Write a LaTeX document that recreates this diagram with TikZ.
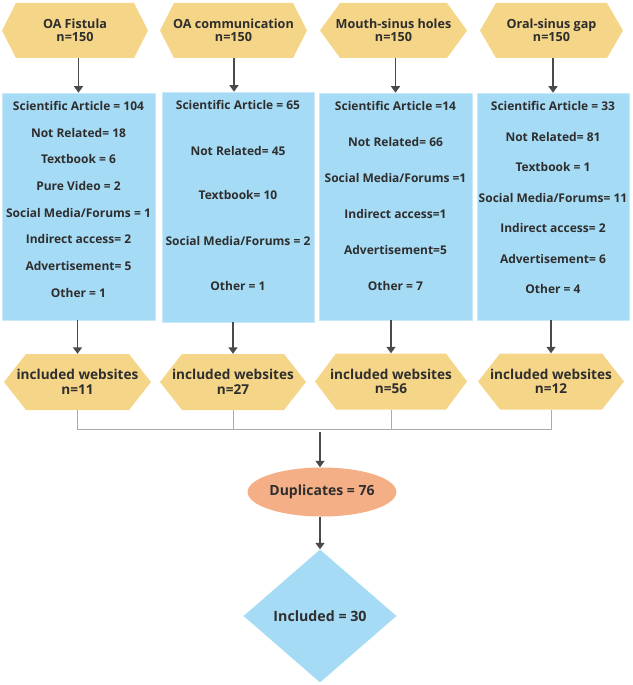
\documentclass[tikz,border=0pt]{standalone}
\usepackage{fontspec}
\setmainfont{Open Sans}
\usetikzlibrary{shapes.geometric,arrows.meta}
\definecolor{hexc}{HTML}{F5D587}
\definecolor{boxc}{HTML}{A6DBF5}
\definecolor{ellc}{HTML}{F5AF86}
\definecolor{txt}{HTML}{2E2E2E}
\definecolor{arr}{HTML}{4A4A4A}
\definecolor{conn}{HTML}{ABABAB}
\tikzset{
  hextext/.style={inner sep=0pt, align=center, text=txt, font=\fontsize{12.6}{12.5}\selectfont\bfseries},
  lowtext/.style={inner sep=0pt, align=center, text=txt, font=\fontsize{13.6}{14.5}\selectfont\bfseries},
  bluebox/.style={rectangle, fill=boxc, draw=boxc!60!white, line width=0.6pt, inner sep=0pt},
  bt/.style={inner sep=0pt, text=txt, font=\fontsize{12}{13}\selectfont\bfseries},
  arrowst/.style={draw=arr, line width=1.4pt, -{Triangle[length=6.5pt,width=9pt]}},
  connl/.style={draw=conn, line width=0.9pt},
}
\newcommand\myhex[7]{%
  \fill[hexc] (#2-#4,#3) -- (#2-#4+#6,#3-#5) -- (#2+#4-#6,#3-#5) -- (#2+#4,#3)
     -- (#2+#4-#6,#3+#5) -- (#2-#4+#6,#3+#5) -- cycle;
  \node[#7, minimum width=2*#4, minimum height=2*#5] (#1) at (#2,#3) {};
}
\begin{document}
\begin{tikzpicture}[x=1pt,y=-1pt]
\useasboundingbox (0,0) rectangle (632,685);
% top hexagons
\myhex{h1}{75}{30.5}{73}{27.5}{14}{hextext}
\myhex{h2}{233.5}{30.5}{73.5}{27.5}{14}{hextext}
\myhex{h3}{393.5}{30.5}{73.5}{27.5}{20}{hextext}
\myhex{h4}{551.5}{30.5}{71.5}{27.5}{16}{hextext}
\node[hextext] (h1t) at (h1.center) {OA Fistula\\n=150};
\node[hextext] (h2t) at (h2.center) {OA communication\\n=150};
\node[hextext] (h3t) at (h3.center) {Mouth-sinus holes\\n=150};
\node[hextext] (h4t) at (h4.center) {Oral-sinus gap\\n=150};
% boxes
\node[bluebox, minimum width=153, minimum height=227] (b1) at (78.5,206.5) {};
\node[bluebox, minimum width=152, minimum height=230] (b2) at (238,207) {};
\node[bluebox, minimum width=153, minimum height=227] (b3) at (395.5,206.5) {};
\node[bluebox, minimum width=152, minimum height=227] (b4) at (553,206.5) {};
% box 1 text
\node[bt] (b1a) at (78.5,106) {Scientific Article = 104};
\node[bt] (b1b) at (78.5,133) {Not Related= 18};
\node[bt] (b1c) at (78.5,159) {Textbook = 6};
\node[bt] (b1d) at (78.5,186) {Pure Video = 2};
\node[bt] (b1e) at (78.5,213) {Social Media/Forums = 1};
\node[bt] (b1f) at (78.5,239) {Indirect access= 2};
\node[bt] (b1g) at (78.5,266) {Advertisement= 5};
\node[bt] (b1h) at (78.5,293) {Other = 1};
% box 2 text
\node[bt] (b2a) at (238,105) {Scientific Article = 65};
\node[bt] (b2b) at (238,151) {Not Related= 45};
\node[bt] (b2c) at (238,195) {Textbook= 10};
\node[bt] (b2d) at (238,241) {Social Media/Forums = 2};
\node[bt] (b2e) at (238,286) {Other = 1};
% box 3 text
\node[bt] (b3a) at (395.5,106) {Scientific Article =14};
\node[bt] (b3b) at (395.5,142) {Not Related= 66};
\node[bt] (b3c) at (395.5,178) {Social Media/Forums =1};
\node[bt] (b3d) at (395.5,214) {Indirect access=1};
\node[bt] (b3e) at (395.5,250) {Advertisement=5};
\node[bt] (b3f) at (395.5,286) {Other = 7};
% box 4 text
\node[bt] (b4a) at (553,106) {Scientific Article = 33};
\node[bt] (b4b) at (553,137) {Not Related= 81};
\node[bt] (b4c) at (553,167) {Textbook = 1};
\node[bt] (b4d) at (553,198) {Social Media/Forums= 11};
\node[bt] (b4e) at (553,228) {Indirect access= 2};
\node[bt] (b4f) at (553,259) {Advertisement= 6};
\node[bt] (b4g) at (553,289) {Other = 4};
% lower hexagons
\myhex{l1}{77.5}{382}{73.5}{28}{22}{lowtext}
\myhex{l2}{233}{382}{73}{28}{22}{lowtext}
\myhex{l3}{391}{381.5}{76}{28}{21}{lowtext}
\myhex{l4}{551}{381.5}{73}{28}{22}{lowtext}
\node[lowtext] (l1t) at (l1.center) {included websites\\n=11};
\node[lowtext] (l2t) at (l2.center) {included websites\\n=27};
\node[lowtext] (l3t) at (l3.center) {included websites\\n=56};
\node[lowtext] (l4t) at (l4.center) {included websites\\n=12};
% ellipse and diamond
\node[ellipse, fill=ellc, minimum width=146, minimum height=49, inner sep=0pt, text=txt,
      font=\fontsize{14}{15}\selectfont\bfseries] (dup) at (322,492) {Duplicates = 76};
\node[diamond, fill=boxc, minimum width=153, minimum height=133, inner sep=0pt, text=txt,
      font=\fontsize{14.2}{15}\selectfont\bfseries] (inc) at (320,616) {Included = 30};
% arrows top -> boxes
\draw[arrowst] (h1.south -| b1.north) -- (b1.north);
\draw[arrowst] (h2.south -| 234,0) -- (b2.north -| 234,0);
\draw[arrowst] (h3.south -| b3.north) -- (b3.north);
\draw[arrowst] (h4.south -| b4.north) -- (b4.north);
% boxes -> lower hexagons
\draw[arrowst] (b1.south -| l1.north) -- (l1.north);
\draw[arrowst] (b2.south -| l2.north) -- (l2.north);
\draw[arrowst] (b3.south -| l3.north) -- (l3.north);
\draw[arrowst] (b4.south -| l4.north) -- (l4.north);
% merge lines
\coordinate (j) at (320,429);
\draw[connl] (l1.south) -- (l1.south |- j) -- (l4.south |- j) -- (l4.south);
\draw[connl] (l2.south) -- (l2.south |- j);
\draw[connl] (l3.south) -- (l3.south |- j);
\draw[arrowst] ([yshift=-3pt]j) -- (dup.north -| j);
\draw[arrowst] (dup.south -| inc.north) -- (inc.north);
\end{tikzpicture}
\end{document}
